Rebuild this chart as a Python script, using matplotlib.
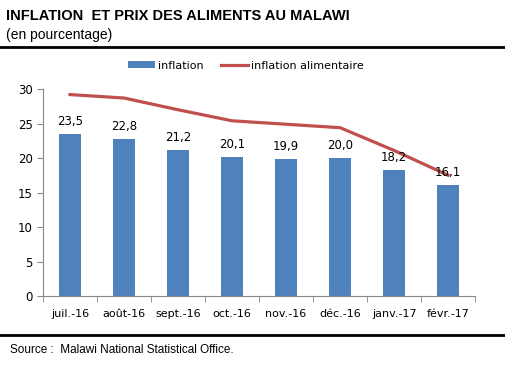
import matplotlib.pyplot as plt
import numpy as np

mois = ["juil.-16", "août-16", "sept.-16", "oct.-16", "nov.-16", "déc.-16", "janv.-17", "févr.-17"]
inflation = [23.5, 22.8, 21.2, 20.1, 19.9, 20.0, 18.2, 16.1]
inflation_alim = [29.2, 28.7, 27.0, 25.4, 24.9, 24.4, 21.1, 17.5]

fig = plt.figure(figsize=(5.06, 3.65), dpi=100)
ax = fig.add_axes([0.085, 0.189, 0.854, 0.567])

x = np.arange(len(mois))
barres = ax.bar(x, inflation, width=0.4, color="#4F81BD", label="inflation", zorder=2)
ligne, = ax.plot(x, inflation_alim, color="#C0504D", lw=2.3, label="inflation alimentaire", zorder=3)

for xi, v in zip(x, inflation):
    ax.text(xi, v + 0.9, f"{v:.1f}".replace(".", ","), ha="center", va="bottom",
            fontsize=8.5, family="DejaVu Sans", zorder=4)

ax.set_ylim(0, 30)
ax.set_yticks(range(0, 31, 5))
ax.set_xlim(-0.5, len(mois) - 0.5)
ax.set_xticks(x)
ax.set_xticklabels(mois)
ax.set_xticks(np.arange(-0.5, len(mois), 1), minor=True)
ax.tick_params(axis="x", which="major", length=0, pad=9, labelsize=8)
ax.tick_params(axis="x", which="minor", length=4, color="#888888")
ax.tick_params(axis="y", length=4, color="#888888", labelsize=8.5)
for s in ["top", "right"]:
    ax.spines[s].set_visible(False)
ax.spines["left"].set_color("#888888")
ax.spines["bottom"].set_color("#888888")

ax.legend([barres, ligne], ["inflation", "inflation alimentaire"],
          loc="lower center", bbox_to_anchor=(0.47, 1.04), ncol=2, frameon=False,
          fontsize=8, handlelength=2.4, handleheight=0.6, columnspacing=1.6, handletextpad=0.3)

fig.text(0.012, 0.955, "INFLATION  ET PRIX DES ALIMENTS AU MALAWI", fontsize=10.5,
         fontweight="bold", family="Liberation Sans", va="center")
fig.text(0.012, 0.905, "(en pourcentage)", fontsize=10, family="Liberation Sans", va="center")
fig.add_artist(plt.Line2D([0.0, 1.0], [0.871, 0.871], color="black", lw=2))
fig.add_artist(plt.Line2D([0.0, 1.0], [0.082, 0.082], color="black", lw=2))
fig.text(0.02, 0.04, "Source :  Malawi National Statistical Office.", fontsize=8.5,
         family="Liberation Sans", va="center")

fig.savefig("out.png", dpi=100)
